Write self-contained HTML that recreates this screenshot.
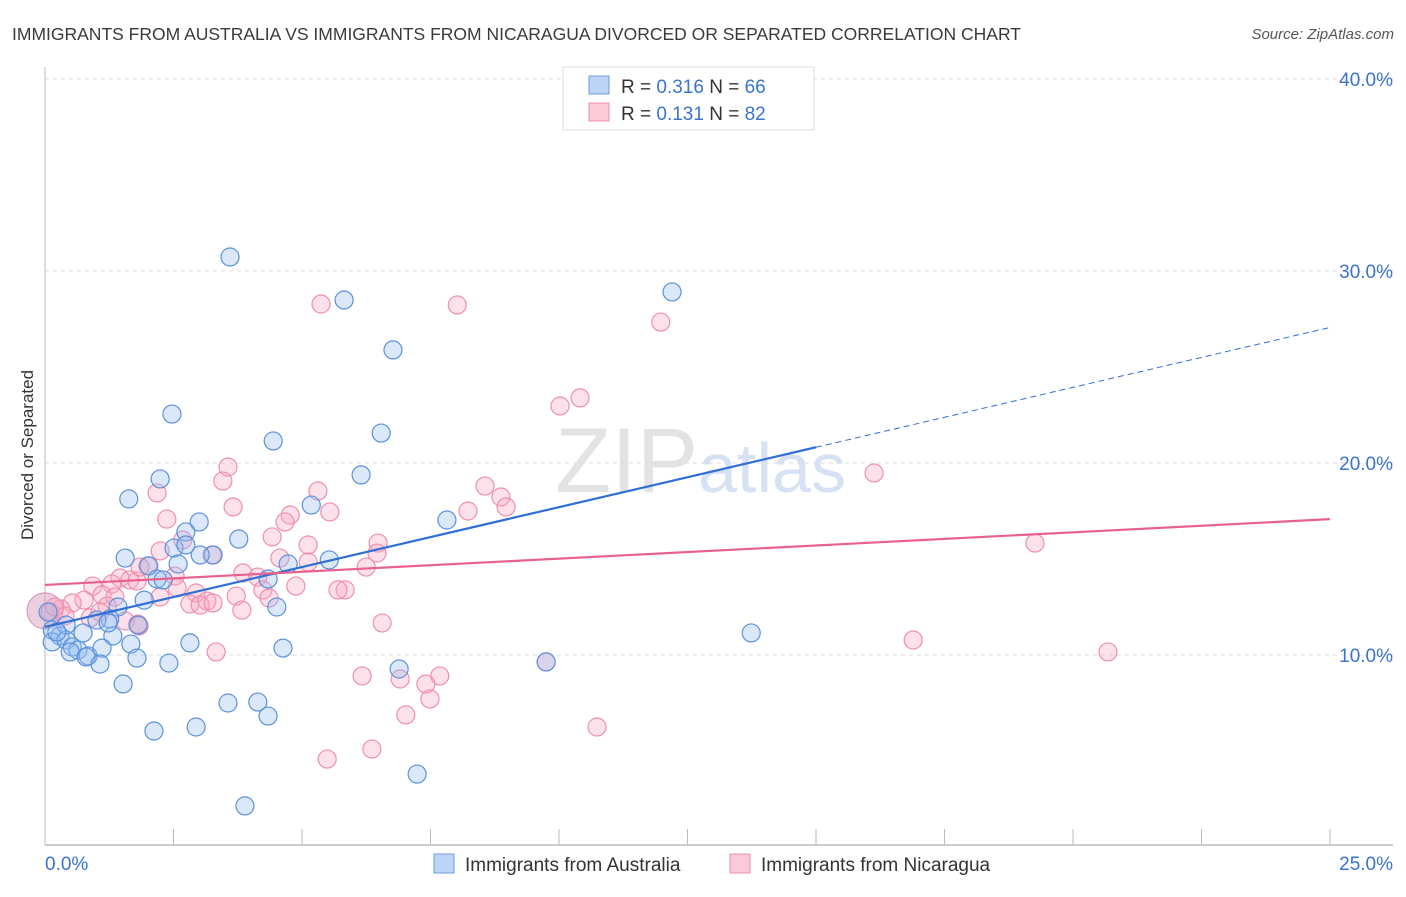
<!DOCTYPE html>
<html><head><meta charset="utf-8"><style>
body{margin:0;background:#fff;font-family:"Liberation Sans",sans-serif;}
svg text{font-family:"Liberation Sans",sans-serif;}
</style></head><body>
<svg id="chart" width="1406" height="892" xmlns="http://www.w3.org/2000/svg">
<text x="12" y="40" font-size="17.5" fill="#3a3a3a">IMMIGRANTS FROM AUSTRALIA VS IMMIGRANTS FROM NICARAGUA DIVORCED OR SEPARATED CORRELATION CHART</text>
<text x="1394" y="39" font-size="15" font-style="italic" fill="#555" text-anchor="end">Source: ZipAtlas.com</text>
<text transform="translate(33,455) rotate(-90)" font-size="17" fill="#333" text-anchor="middle">Divorced or Separated</text>
<text x="555" y="492" font-size="92" font-family="Liberation Serif" fill="#d8d8d8" opacity="0.7">ZIP<tspan fill="#c5d7ee" font-family="Liberation Sans" font-size="70">atlas</tspan></text>
<g id="grid"></g><g id="marks"></g><g id="lines"></g>
<g>
<rect x="563" y="67" width="251" height="63" fill="#fff" stroke="#ddd"/>
<rect x="589" y="76" width="20" height="18" fill="#bcd4f5" stroke="#6d9be0"/>
<rect x="589" y="103" width="20" height="18" fill="#fbc9d8" stroke="#ec8fae"/>
<text x="621" y="93" font-size="19" fill="#333">R = <tspan fill="#3b73d1">0.316</tspan>   N = <tspan fill="#3b73d1">66</tspan></text>
<text x="621" y="120" font-size="19" fill="#333">R =  <tspan fill="#3b73d1">0.131</tspan>   N = <tspan fill="#3b73d1">82</tspan></text>
</g>
<g>
<rect x="434" y="854" width="20" height="19" fill="#bcd4f5" stroke="#6d9be0"/>
<text x="465" y="871" font-size="19" fill="#333">Immigrants from Australia</text>
<rect x="730" y="854" width="20" height="19" fill="#fbc9d8" stroke="#ec8fae"/>
<text x="761" y="871" font-size="19" fill="#333">Immigrants from Nicaragua</text>
</g>
</svg>
<script>
const xTicks=[0,2.5,5,7.5,10,12.5,15,17.5,20,22.5,25];
const yTicks=[10,20,30,40];
const yTickLabels=["10.0%","20.0%","30.0%","40.0%"];
const xEndLabels=["0.0%","25.0%"];
const ausX=[3.60,5.82,12.20,6.77,2.47,6.54,4.44,6.15,2.24,1.63,5.18,7.82,3.00,2.74,3.77,2.51,3.27,1.56,2.74,2.02,2.59,5.53,2.18,4.73,4.34,1.93,1.42,4.51,1.26,1.81,1.01,0.14,0.74,0.29,1.32,0.14,0.41,0.53,0.64,0.84,1.11,1.67,2.82,0.49,0.80,1.07,1.79,2.41,4.63,6.89,9.75,13.74,1.52,3.56,4.14,4.34,2.12,2.94,7.24,3.89,0.06,0.41,0.23,1.23,3.02,2.30];
const ausY=[30.73,28.49,28.91,25.89,22.55,21.56,21.15,19.38,19.17,18.13,17.81,17.03,16.93,16.41,16.04,15.57,15.21,15.05,15.73,14.64,14.74,14.95,13.96,14.74,13.96,12.86,12.50,12.50,11.88,11.56,11.82,11.30,11.15,10.99,10.99,10.68,10.78,10.42,10.26,9.95,10.36,10.57,10.63,10.16,9.90,9.53,9.84,9.58,10.36,9.27,9.64,11.15,8.49,7.50,7.55,6.82,6.04,6.25,3.80,2.14,12.24,11.56,11.20,11.67,15.21,13.91];
const nicX=[5.37,8.02,11.98,10.41,10.02,16.13,3.56,3.46,2.18,3.66,5.31,8.56,8.87,8.97,8.23,5.54,2.37,4.77,4.67,4.42,5.12,6.48,19.26,3.25,2.24,2.68,6.46,4.57,5.12,6.25,2.00,1.46,1.65,2.53,3.85,4.14,0.93,1.30,1.79,2.57,4.24,4.88,5.84,5.70,1.11,0.76,0.53,1.36,2.94,3.72,2.82,3.15,3.02,3.27,4.36,1.21,0.31,0.10,0.88,0.39,1.56,1.83,3.83,6.56,16.89,20.68,3.33,6.17,6.91,7.68,7.41,7.49,7.02,10.74,6.36,5.49,9.75,1.85,0.19,1.07,1.81,2.24];
const nicY=[28.28,28.23,27.34,23.39,22.97,19.48,19.79,19.06,18.44,17.71,18.54,18.80,18.23,17.71,17.50,17.45,17.08,17.29,16.93,16.15,15.73,15.83,15.83,15.21,15.42,15.99,15.31,15.05,14.84,14.58,14.64,14.01,13.91,14.11,14.27,14.06,13.59,13.70,13.85,13.49,13.39,13.59,13.39,13.39,13.13,12.86,12.71,13.02,13.23,13.07,12.66,12.81,12.60,12.71,12.97,12.55,12.40,12.24,11.93,12.03,11.77,11.51,12.34,11.67,10.78,10.16,10.16,8.91,8.75,8.91,8.49,7.71,6.88,6.25,5.10,4.58,9.64,14.58,12.50,12.24,11.61,13.02];
const bigPoint=[0.0,12.3];
const ausTrend=[11.46,0.624];
const nicTrend=[13.65,0.137];
const ausSolidEnd=15;
const NS="http://www.w3.org/2000/svg";
const X0=45,X1=1330,Y0=847,PXY=19.2;
function sx(v){return X0+(X1-X0)*v/25;}
function sy(v){return Y0-v*PXY;}
function mk(tag,attrs,parent){const e=document.createElementNS(NS,tag);for(const k in attrs)e.setAttribute(k,attrs[k]);parent.appendChild(e);return e;}
const grid=document.getElementById('grid'),marks=document.getElementById('marks'),lines=document.getElementById('lines');
yTicks.forEach((t,i)=>{
 const l=mk('line',{x1:45,x2:1393,y1:sy(t),y2:sy(t),stroke:'#ddd','stroke-dasharray':'4,4'},grid);
 
 
 const tx=mk('text',{x:1393,y:sy(t)+7,'font-size':19,fill:'#3b73d1','text-anchor':'end'},grid);
 tx.textContent=yTickLabels[i];
 
 
});
const ya=mk('line',{x1:45,x2:45,y1:67,y2:845,stroke:'#bbb'},grid);


const xa=mk('line',{x1:45,x2:1393,y1:845,y2:845,stroke:'#bbb','stroke-width':1.5},grid);


xTicks.forEach(t=>{
 const k=mk('line',{x1:sx(t),x2:sx(t),y1:829,y2:845,stroke:'#bbb'},grid);
 
 
});
[[0,45,'start'],[1,1393,'end']].forEach(([i,x,a])=>{
 const t=mk('text',{x:x,y:870,'font-size':19,fill:'#3b73d1','text-anchor':a},grid);
 t.textContent=xEndLabels[i];
 
 
});
const bp=mk('circle',{cx:sx(bigPoint[0]),cy:sy(bigPoint[1]),r:18,fill:'rgba(210,150,190,0.45)',stroke:'#d98fb0'},marks);


nicX.forEach((x,i)=>{
 const c=mk('circle',{cx:sx(x),cy:sy(nicY[i]),r:9,fill:'rgba(248,170,195,0.35)',stroke:'#ee8fae','stroke-width':1.2},marks);
 
 
});
ausX.forEach((x,i)=>{
 const c=mk('circle',{cx:sx(x),cy:sy(ausY[i]),r:9,fill:'rgba(150,190,240,0.35)',stroke:'#5b92dc','stroke-width':1.2},marks);
 
 
});
const f=(tr,x)=>tr[0]+tr[1]*x;
const a1=mk('line',{x1:sx(0),y1:sy(f(ausTrend,0)),x2:sx(ausSolidEnd),y2:sy(f(ausTrend,ausSolidEnd)),stroke:'#2f6fd6','stroke-width':2.2},lines);


const a2=mk('line',{x1:sx(ausSolidEnd),y1:sy(f(ausTrend,ausSolidEnd)),x2:sx(25),y2:sy(f(ausTrend,25)),stroke:'#2f6fd6','stroke-width':1,'stroke-dasharray':'6,4'},lines);


const n1=mk('line',{x1:sx(0),y1:sy(f(nicTrend,0)),x2:sx(25),y2:sy(f(nicTrend,25)),stroke:'#e8608e','stroke-width':2.2},lines);


</script>
</body></html>
